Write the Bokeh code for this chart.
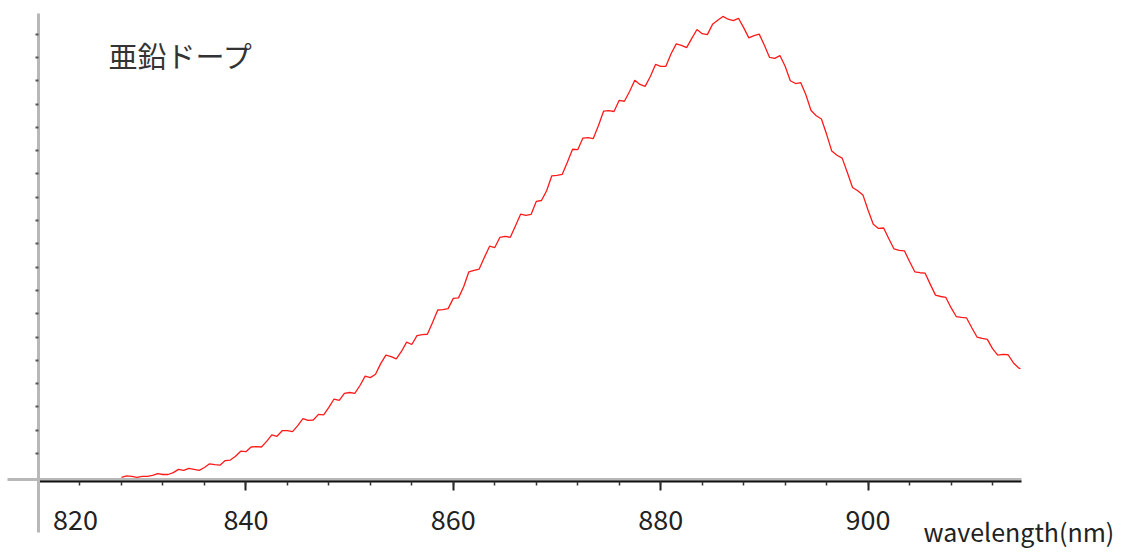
from bokeh.plotting import figure
from bokeh.models import LinearAxis, FixedTicker, Range1d, Label
from bokeh.embed import file_html
from bokeh.resources import INLINE

# ---- data ----
wavelength = [
    828, 828.5, 829, 829.5, 830, 830.5, 831, 831.5, 832, 832.5, 833, 833.5, 834, 834.5,
    835, 835.5, 836, 836.5, 837, 837.5, 838, 838.5, 839, 839.5, 840, 840.5, 841, 841.5,
    842, 842.5, 843, 843.5, 844, 844.5, 845, 845.5, 846, 846.5, 847, 847.5, 848, 848.5,
    849, 849.5, 850, 850.5, 851, 851.5, 852, 852.5, 853, 853.5, 854, 854.5, 855, 855.5,
    856, 856.5, 857, 857.5, 858, 858.5, 859, 859.5, 860, 860.5, 861, 861.5, 862, 862.5,
    863, 863.5, 864, 864.5, 865, 865.5, 866, 866.5, 867, 867.5, 868, 868.5, 869, 869.5,
    870, 870.5, 871, 871.5, 872, 872.5, 873, 873.5, 874, 874.5, 875, 875.5, 876, 876.5,
    877, 877.5, 878, 878.5, 879, 879.5, 880, 880.5, 881, 881.5, 882, 882.5, 883, 883.5,
    884, 884.5, 885, 885.5, 886, 886.5, 887, 887.5, 888, 888.5, 889, 889.5, 890, 890.5,
    891, 891.5, 892, 892.5, 893, 893.5, 894, 894.5, 895, 895.5, 896, 896.5, 897, 897.5,
    898, 898.5, 899, 899.5, 900, 900.5, 901, 901.5, 902, 902.5, 903, 903.5, 904, 904.5,
    905, 905.5, 906, 906.5, 907, 907.5, 908, 908.5, 909, 909.5, 910, 910.5, 911, 911.5,
    912, 912.5, 913, 913.5, 914, 914.5, 914.7,
]
intensity = [
    0.009, 0.012, 0.011, 0.009, 0.011, 0.011, 0.013, 0.017, 0.015, 0.015, 0.019, 0.026, 0.024, 0.028,
    0.026, 0.024, 0.030, 0.038, 0.036, 0.035, 0.045, 0.046, 0.054, 0.065, 0.064, 0.074, 0.075, 0.074,
    0.086, 0.100, 0.097, 0.109, 0.109, 0.107, 0.120, 0.135, 0.131, 0.132, 0.144, 0.143, 0.159, 0.177,
    0.174, 0.189, 0.191, 0.189, 0.206, 0.226, 0.223, 0.230, 0.253, 0.271, 0.268, 0.263, 0.279, 0.299,
    0.294, 0.313, 0.315, 0.316, 0.341, 0.368, 0.369, 0.371, 0.393, 0.394, 0.418, 0.450, 0.453, 0.456,
    0.481, 0.505, 0.502, 0.524, 0.526, 0.524, 0.549, 0.574, 0.571, 0.573, 0.601, 0.603, 0.624, 0.656,
    0.657, 0.659, 0.685, 0.713, 0.712, 0.737, 0.738, 0.736, 0.764, 0.795, 0.796, 0.794, 0.818, 0.816,
    0.837, 0.861, 0.852, 0.848, 0.869, 0.895, 0.891, 0.891, 0.918, 0.939, 0.936, 0.931, 0.951, 0.970,
    0.961, 0.959, 0.981, 0.990, 0.998, 0.992, 0.989, 0.994, 0.974, 0.952, 0.957, 0.960, 0.936, 0.910,
    0.908, 0.914, 0.891, 0.860, 0.854, 0.856, 0.830, 0.796, 0.785, 0.778, 0.745, 0.709, 0.700, 0.694,
    0.663, 0.631, 0.624, 0.615, 0.582, 0.552, 0.543, 0.544, 0.521, 0.499, 0.496, 0.495, 0.472, 0.450,
    0.448, 0.447, 0.423, 0.400, 0.397, 0.395, 0.373, 0.354, 0.352, 0.351, 0.330, 0.310, 0.307, 0.305,
    0.285, 0.271, 0.273, 0.272, 0.255, 0.244, 0.242,
]
x_ticks = [840, 860, 880, 900]
x_minor_ticks = [820] + [824 + 4 * i for i in range(23)]
first_label = "820"
title_text = "亜鉛ドープ"
x_label_text = "wavelength(nm)"

FONT = "Noto Sans CJK JP"

p = figure(width=1135, height=552, output_backend="svg", toolbar_location=None,
           x_axis_type=None, y_axis_type=None, min_border=0,
           x_range=Range1d(816.3356, 925.787), y_range=Range1d(-0.15236, 1.03219))
p.outline_line_color = None
p.background_fill_color = "white"

# grey baseline (left of and along the x axis)
grey_axis = LinearAxis(fixed_location=0.005, bounds=(816.98, 914.8),
                       axis_line_color="#b8b8b8", axis_line_width=3,
                       major_tick_line_color=None, minor_tick_line_color=None)
grey_axis.ticker = FixedTicker(ticks=[])
p.add_layout(grey_axis, "below")

# x axis
xaxis = LinearAxis(fixed_location=0, bounds=(820, 914.8),
                   axis_line_color="#111111", axis_line_width=2,
                   major_tick_line_color="#222222", major_tick_line_width=2,
                   major_tick_out=9, major_tick_in=0,
                   minor_tick_line_color="#333333", minor_tick_line_width=1.5,
                   minor_tick_out=4, minor_tick_in=0,
                   major_label_standoff=19,
                   major_label_text_font=FONT, major_label_text_font_size="27px",
                   major_label_text_color="#222222")
xaxis.ticker = FixedTicker(ticks=x_ticks, minor_ticks=x_minor_ticks)
p.add_layout(xaxis, "below")

# label of the first tick, drawn right of the axis origin
xaxis0 = LinearAxis(fixed_location=0, axis_line_color=None,
                    major_tick_line_color=None, minor_tick_line_color=None,
                    major_tick_out=9, major_tick_in=0,
                    major_label_standoff=19,
                    major_label_text_font=FONT, major_label_text_font_size="27px",
                    major_label_text_color="#222222")
xaxis0.ticker = FixedTicker(ticks=[823.57])
xaxis0.major_label_overrides = {823.57: first_label}
p.add_layout(xaxis0, "below")

# y axis (grey line, small ticks, no labels)
yaxis = LinearAxis(fixed_location=820, bounds=(-0.109, 1.005),
                   axis_line_color="#b8b8b8", axis_line_width=3,
                   major_tick_line_color=None,
                   minor_tick_line_color="#555555", minor_tick_line_width=2,
                   minor_tick_out=3, minor_tick_in=0)
yaxis.ticker = FixedTicker(ticks=[], minor_ticks=[0.06 + 0.05 * i for i in range(19)])
p.add_layout(yaxis, "left")

# spectrum
p.line(wavelength, intensity, line_color="#ff1a1a", line_width=1.3)

p.add_layout(Label(x=826.75, y=0.916, text=title_text, text_font=FONT,
                   text_font_size="29px", text_color="#333333",
                   text_baseline="middle", text_align="left"))
p.add_layout(Label(x=905.34, y=-0.106, text=x_label_text, text_font=FONT,
                   text_font_size="25px", text_color="#222222",
                   text_baseline="middle", text_align="left"))

open("out.html", "w").write(file_html(p, INLINE))
